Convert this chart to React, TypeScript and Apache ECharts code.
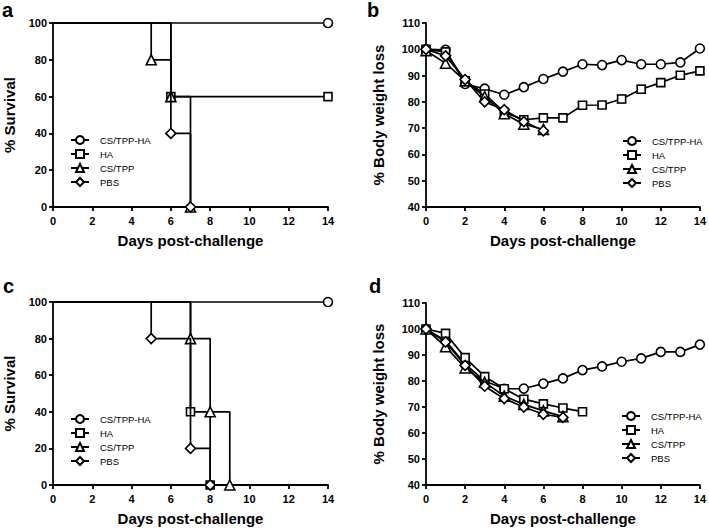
import React, { useEffect, useRef } from "react";
import * as echarts from "echarts";

const groups = ["CS/TPP-HA", "HA", "CS/TPP", "PBS"];
const symbols = ["circle", "rect", "triangle", "diamond"];
const symbolSizes = [9, 8, 10, 10];
const xTicks = { min: 0, max: 14, interval: 2 };

// Panel a: survival steps [day, %]
const survA_CSTPPHA = [[0, 100], [14, 100]];
const survA_HA = [[0, 100], [6, 60], [14, 60]];
const survA_CSTPP = [[0, 100], [5, 80], [6, 60], [7, 0]];
const survA_PBS = [[0, 100], [6, 40], [7, 0]];

// Panel c: survival steps [day, %]
const survC_CSTPPHA = [[0, 100], [14, 100]];
const survC_HA = [[0, 100], [7, 40], [8, 0]];
const survC_CSTPP = [[0, 100], [7, 80], [8, 40], [9, 0]];
const survC_PBS = [[0, 100], [5, 80], [7, 20], [8, 0]];

// Panel b: body weight (%), index = day
const wB_CSTPPHA = [100, 99.8, 86.8, 85, 82.7, 85.6, 88.7, 91.5, 94.3, 94, 95.9, 94.3, 94.3, 95, 100.3];
const wB_HA = [100, 99, 88, 83, 76, 73.2, 73.9, 73.9, 78.7, 78.8, 81.1, 84.8, 87.3, 90.1, 91.8];
const wB_CSTPP = [99.5, 94.7, 88, 82, 75.5, 71.5, 69.5];
const wB_PBS = [100, 97.5, 88.5, 80, 77, 72.5, 69];
const errB_HA = [0, 0, 0, 0, 0, 0, 0, 0, 1.2, 1.0, 1.5, 1.5, 1.2, 1.2, 1.0];

// Panel d: body weight (%), index = day
const wD_CSTPPHA = [100, 95.5, 86.5, 80, 77, 77.1, 79, 81, 84.2, 85.6, 87.4, 88.7, 91.2, 91.2, 94];
const wD_HA = [100, 98.3, 89, 81.7, 77, 73, 71.2, 69.6, 68.2];
const wD_CSTPP = [100, 93.2, 85, 79.5, 74.2, 71, 68.5, 66.3];
const wD_PBS = [100, 95, 86, 78, 73.2, 70, 67.2, 66];

const FONT = "Liberation Sans";

const grids = [
  { left: 53, top: 23, width: 275, height: 184 },
  { left: 426, top: 23, width: 275, height: 184 },
  { left: 53, top: 302, width: 275, height: 183 },
  { left: 426, top: 303, width: 275, height: 182 },
];

const axisLine = { show: true, onZero: false, lineStyle: { color: "#000", width: 1.8 } };
const axisTick = { show: true, length: 4, lineStyle: { color: "#000", width: 1.8 } };
const axisLabelX = { color: "#000", fontSize: 11, fontWeight: "bold", fontFamily: FONT, margin: 8 };
const axisLabelY = { color: "#000", fontSize: 11, fontWeight: "bold", fontFamily: FONT, margin: 6 };
const nameStyle = { color: "#000", fontSize: 15, fontWeight: "bold", fontFamily: FONT };

function makeX(i: number) {
  return {
    type: "value",
    gridIndex: i,
    ...xTicks,
    name: "Days post-challenge",
    nameLocation: "middle",
    nameGap: 26,
    nameTextStyle: nameStyle,
    axisLine,
    axisTick,
    axisLabel: axisLabelX,
    splitLine: { show: false },
  };
}

function makeY(i: number, survival: boolean) {
  return {
    type: "value",
    gridIndex: i,
    min: survival ? 0 : 40,
    max: survival ? 100 : 110,
    interval: survival ? 20 : 10,
    name: survival ? "% Survival" : "% Body weight loss",
    nameLocation: "middle",
    nameGap: survival ? 36 : 40,
    nameTextStyle: nameStyle,
    axisLine,
    axisTick,
    axisLabel: axisLabelY,
    splitLine: { show: false },
  };
}

function baseSeries(g: number, grid: number) {
  return {
    type: "line",
    name: groups[g],
    xAxisIndex: grid,
    yAxisIndex: grid,
    symbol: symbols[g],
    symbolSize: symbolSizes[g],
    showSymbol: true,
    clip: false,
    lineStyle: { color: "#000", width: 1.7 },
    itemStyle: { color: "#fff", borderColor: "#000", borderWidth: 1.6 },
    emphasis: { disabled: true },
    z: 3 + g,
  };
}

function survSeries(g: number, grid: number, pts: number[][]) {
  return {
    ...baseSeries(g, grid),
    step: "end",
    data: pts.map((p, i) => (i === 0 ? { value: p, symbol: "none" } : { value: p })),
  };
}

function weightSeries(g: number, grid: number, vals: number[]) {
  return {
    ...baseSeries(g, grid),
    data: vals.map((v, d) => [d, v]),
  };
}

function errorSeries(grid: number, vals: number[], errs: number[]) {
  const data = vals.map((v, d) => [d, v - errs[d], v + errs[d]]).filter((_, d) => errs[d] > 0);
  return {
    type: "custom",
    xAxisIndex: grid,
    yAxisIndex: grid,
    z: 2,
    silent: true,
    data,
    renderItem: (params: any, api: any) => {
      const x = api.value(0);
      const lo = api.coord([x, api.value(1)]);
      const hi = api.coord([x, api.value(2)]);
      const st = { stroke: "#888", lineWidth: 1.5 };
      return {
        type: "group",
        children: [
          { type: "line", shape: { x1: lo[0], y1: lo[1], x2: hi[0], y2: hi[1] }, style: st },
          { type: "line", shape: { x1: lo[0] - 5, y1: lo[1], x2: lo[0] + 5, y2: lo[1] }, style: st },
          { type: "line", shape: { x1: hi[0] - 5, y1: hi[1], x2: hi[0] + 5, y2: hi[1] }, style: st },
        ],
      };
    },
  };
}

function legend(left: number, top: number) {
  return {
    orient: "vertical",
    left,
    top,
    padding: 0,
    itemGap: 4,
    itemWidth: 18,
    itemHeight: 10,
    selectedMode: false,
    data: groups,
    textStyle: { fontSize: 9.5, fontFamily: FONT, color: "#000", padding: [0, 0, 0, 6] },
  };
}

function panelLabel(text: string, x: number, y: number) {
  return {
    type: "text",
    left: x,
    top: y,
    style: { text, fontSize: 20, fontWeight: "bold", fontFamily: FONT, fill: "#000" },
  };
}

export default function App() {
  const ref = useRef<HTMLDivElement>(null);
  useEffect(() => {
    document.body.style.margin = "0";
    const chart = echarts.init(ref.current!, null, { renderer: "svg" });
    chart.setOption({
      animation: false,
      backgroundColor: "#fff",
      grid: grids,
      xAxis: [0, 1, 2, 3].map(makeX),
      yAxis: [makeY(0, true), makeY(1, false), makeY(2, true), makeY(3, false)],
      legend: [legend(70, 135), legend(622, 136), legend(70, 414), legend(621, 411)],
      graphic: [
        panelLabel("a", 2, 0),
        panelLabel("b", 367, 0),
        panelLabel("c", 3, 276),
        panelLabel("d", 369, 276),
      ],
      series: [
        survSeries(0, 0, survA_CSTPPHA),
        survSeries(1, 0, survA_HA),
        survSeries(2, 0, survA_CSTPP),
        survSeries(3, 0, survA_PBS),
        errorSeries(1, wB_HA, errB_HA),
        weightSeries(0, 1, wB_CSTPPHA),
        weightSeries(1, 1, wB_HA),
        weightSeries(2, 1, wB_CSTPP),
        weightSeries(3, 1, wB_PBS),
        survSeries(0, 2, survC_CSTPPHA),
        survSeries(1, 2, survC_HA),
        survSeries(2, 2, survC_CSTPP),
        survSeries(3, 2, survC_PBS),
        weightSeries(0, 3, wD_CSTPPHA),
        weightSeries(1, 3, wD_HA),
        weightSeries(2, 3, wD_CSTPP),
        weightSeries(3, 3, wD_PBS),
      ],
    });
    return () => chart.dispose();
  }, []);
  return <div ref={ref} style={{ width: 709, height: 528 }} />;
}
